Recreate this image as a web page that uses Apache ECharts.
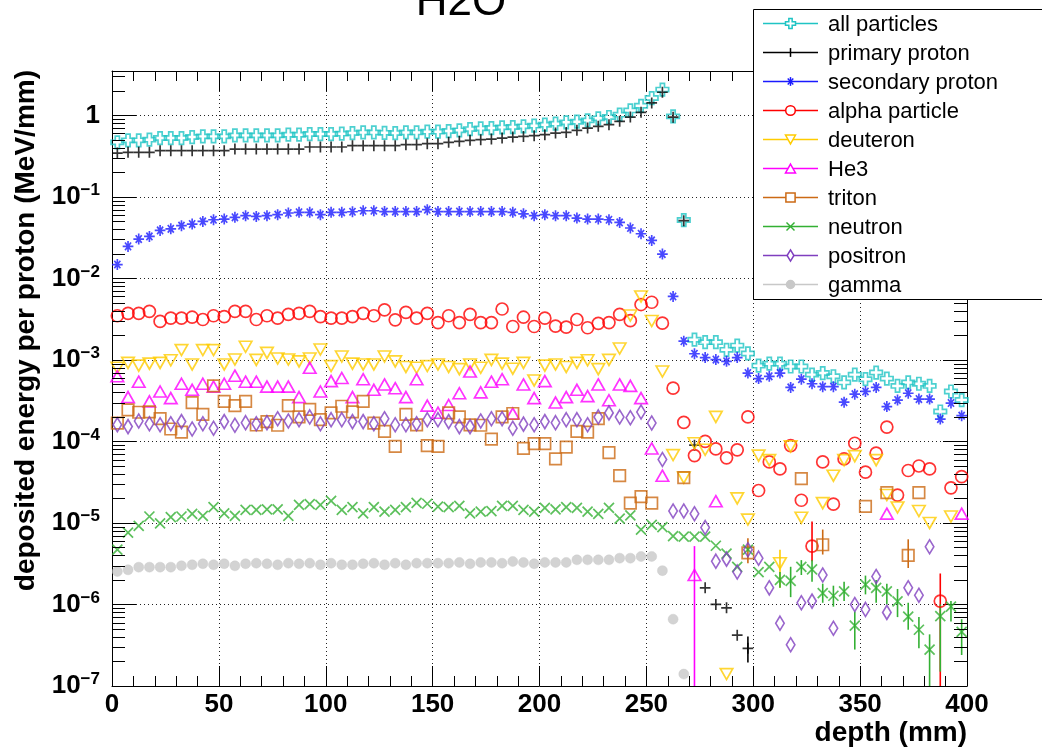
<!DOCTYPE html>
<html>
<head>
<meta charset="utf-8">
<title>H2O</title>
<script src="https://cdn.jsdelivr.net/npm/echarts@6/dist/echarts.min.js"></script>
<style>
html, body { margin: 0; padding: 0; background: #fff; }
#main { width: 1042px; height: 749px; }
</style>
</head>
<body>
<div id="main"></div>
<script>
// bin centres (mm), 5 mm bins
var depth = [
  2.5, 7.5, 12.5, 17.5, 22.5, 27.5, 32.5, 37.5, 42.5, 47.5,
  52.5, 57.5, 62.5, 67.5, 72.5, 77.5, 82.5, 87.5, 92.5, 97.5,
  102.5, 107.5, 112.5, 117.5, 122.5, 127.5, 132.5, 137.5, 142.5, 147.5,
  152.5, 157.5, 162.5, 167.5, 172.5, 177.5, 182.5, 187.5, 192.5, 197.5,
  202.5, 207.5, 212.5, 217.5, 222.5, 227.5, 232.5, 237.5, 242.5, 247.5,
  252.5, 257.5, 262.5, 267.5, 272.5, 277.5, 282.5, 287.5, 292.5, 297.5,
  302.5, 307.5, 312.5, 317.5, 322.5, 327.5, 332.5, 337.5, 342.5, 347.5,
  352.5, 357.5, 362.5, 367.5, 372.5, 377.5, 382.5, 387.5, 392.5, 397.5
];

var allParticles = [
  0.467, 0.494, 0.494, 0.503, 0.527, 0.527, 0.527, 0.542, 0.552, 0.552,
  0.552, 0.568, 0.568, 0.568, 0.568, 0.568, 0.579, 0.579, 0.590, 0.590,
  0.590, 0.596, 0.606, 0.618, 0.618, 0.610, 0.606, 0.618, 0.618, 0.631,
  0.631, 0.642, 0.655, 0.679, 0.692, 0.699, 0.712, 0.719, 0.733, 0.747,
  0.768, 0.791, 0.821, 0.836, 0.868, 0.919, 0.954, 1.02, 1.15, 1.31,
  1.63, 2.07, 0.97, 0.052, 0.00177, 0.00165, 0.00165, 0.00133, 0.00150, 0.00120,
  0.00085, 0.00090, 0.00090, 0.00083, 0.00083, 0.00066, 0.00069, 0.00063, 0.00053, 0.00066,
  0.00058, 0.00070, 0.00059, 0.00048, 0.00053, 0.00051, 0.00048, 0.000233, 0.00041, 0.000322
];

var primaryProton = [
  0.345, 0.352, 0.352, 0.352, 0.369, 0.369, 0.369, 0.369, 0.369, 0.369,
  0.369, 0.386, 0.386, 0.386, 0.386, 0.386, 0.386, 0.386, 0.409, 0.409,
  0.409, 0.409, 0.424, 0.424, 0.424, 0.424, 0.424, 0.437, 0.437, 0.449,
  0.449, 0.467, 0.480, 0.494, 0.503, 0.512, 0.527, 0.542, 0.552, 0.563,
  0.579, 0.606, 0.618, 0.655, 0.699, 0.733, 0.768, 0.844, 0.954, 1.09,
  1.42, 1.92, 0.95, 0.051, 9.0e-5, 1.6e-6, 1.0e-6, 9.1e-7, 4.2e-7, 2.9e-7,
  null, null, null, null, null, null, null, null, null, null,
  null, null, null, null, null, null, null, null, null, null
];

var secondaryProton = [
  0.0148, 0.0247, 0.0304, 0.0327, 0.0388, 0.0406, 0.0443, 0.0464, 0.0500, 0.0524,
  0.0535, 0.0561, 0.0587, 0.0575, 0.0587, 0.0605, 0.0634, 0.0646, 0.0646, 0.0605,
  0.0646, 0.0646, 0.0657, 0.0676, 0.0676, 0.0660, 0.0660, 0.0660, 0.0660, 0.0697,
  0.0660, 0.0660, 0.0660, 0.0660, 0.0660, 0.0660, 0.0660, 0.0646, 0.0620, 0.0587,
  0.0605, 0.0587, 0.0587, 0.0550, 0.0535, 0.0535, 0.0524, 0.0486, 0.0415, 0.0353,
  0.0292, 0.0199, 0.0060, 0.0017, 0.00119, 0.00107, 0.00101, 0.00096, 0.00107, 0.00069,
  0.00059, 0.00063, 0.00069, 0.00046, 0.00058, 0.00051, 0.00047, 0.00047, 0.000303, 0.00038,
  0.00041, 0.00046, 0.000268, 0.000322, 0.00039, 0.000331, 0.000331, 0.000188, 0.000296, 0.000207
];

var alphaParticle = [
  0.00348, 0.00373, 0.00373, 0.00394, 0.00297, 0.00325, 0.00325, 0.00334, 0.00313, 0.00348,
  0.00340, 0.00394, 0.00394, 0.00313, 0.00348, 0.00325, 0.00362, 0.00373, 0.00394, 0.00340,
  0.00325, 0.00325, 0.00340, 0.00373, 0.00348, 0.00410, 0.00310, 0.00383, 0.00325, 0.00373,
  0.00287, 0.00348, 0.00287, 0.00362, 0.00287, 0.00287, 0.00421, 0.00257, 0.00334, 0.00257,
  0.00325, 0.00260, 0.00253, 0.00313, 0.00248, 0.00280, 0.00287, 0.00362, 0.00303, 0.00478,
  0.00510, 0.00282, 0.00045, 0.000171, 6.7e-5, 1.0e-4, 8.1e-5, 6.3e-5, 7.9e-5, 2.0e-4,
  2.5e-5, 5.6e-5, 4.6e-5, 8.9e-5, 1.9e-5, 5.2e-6, 5.6e-5, 1.7e-5, 6.1e-5, 9.5e-5,
  4.2e-5, 7.2e-5, 1.5e-4, 2.2e-5, 4.4e-5, 5.0e-5, 4.6e-5, 1.1e-6, 2.7e-5, 3.7e-5
];

var deuteron = [
  0.00080, 0.00092, 0.00085, 0.00090, 0.00092, 0.00099, 0.00132, 0.00088, 0.00132, 0.00132,
  0.00088, 0.00101, 0.00145, 0.00100, 0.00122, 0.00104, 0.00101, 0.00096, 0.00104, 0.00134,
  0.00084, 0.00110, 0.00090, 0.00088, 0.00088, 0.00110, 0.00096, 0.00082, 0.00080, 0.00084,
  0.00088, 0.00082, 0.00077, 0.00088, 0.00080, 0.00100, 0.00090, 0.00078, 0.00092, 0.00056,
  0.00085, 0.00088, 0.00082, 0.00092, 0.00099, 0.00077, 0.00100, 0.00138, 0.00350, 0.00600,
  0.00300, 0.00072, 6.8e-5, 3.6e-5, 9.5e-5, 7.9e-5, 2.0e-4, 1.4e-7, 2.0e-5, 1.1e-5,
  6.7e-5, 5.9e-5, 3.2e-6, 8.7e-5, 1.16e-5, null, 1.75e-5, 3.8e-5, 5.9e-5, 6.6e-5,
  null, 5.9e-5, 2.2e-5, 1.55e-5, null, 1.4e-5, 1.0e-5, null, 1.2e-5, null
];

var he3 = [
  0.00063, 0.00035, 0.00054, 0.00031, 0.00041, 0.00034, 0.00051, 0.00043, 0.00051, 0.00047,
  0.00051, 0.00064, 0.00054, 0.00054, 0.00047, 0.00047, 0.00047, 0.00035, 0.00080, 0.00041,
  0.00055, 0.00060, 0.00035, 0.00058, 0.00043, 0.00050, 0.00045, 0.00035, 0.00058, 0.000275,
  0.000225, 0.00028, 0.00039, 0.00072, 0.00040, 0.00054, 0.00058, 0.00022, 0.00050, 0.00034,
  0.00055, 0.00030, 0.00035, 0.00043, 0.00036, 0.00050, 0.00032, 0.00050, 0.00048, 0.00034,
  8.2e-5, 3.8e-5, null, null, 2.3e-6, null, 1.85e-5, null, null, null,
  null, null, null, null, null, null, null, null, null, null,
  null, null, 1.3e-5, null, null, null, null, null, null, 1.3e-5
];

var triton = [
  0.000168, 0.000244, 0.000228, 0.00023, 0.00019, 0.000142, 0.00013, 0.00030, 0.000215, 0.00048,
  0.00031, 0.000275, 0.00031, 0.000159, 0.000175, 0.000158, 0.000275, 0.00020, 0.000248, 0.000185,
  0.000224, 0.00027, 0.00023, 0.00031, 0.000168, 0.000133, 8.7e-5, 0.000215, 0.00016, 8.9e-5,
  8.7e-5, 0.000224, 0.00020, 0.00016, 0.000158, 0.000107, 0.00020, 0.00022, 8.2e-5, 9.4e-5,
  9.4e-5, 6.1e-5, 8.5e-5, 0.000133, 0.00013, 0.00019, 7.3e-5, 3.8e-5, 1.75e-5, 2.1e-5,
  1.75e-5, null, null, 3.6e-5, null, null, null, null, null, 4.3e-6,
  null, null, null, null, 3.5e-5, null, 5.4e-6, null, null, null,
  1.6e-5, null, 2.35e-5, null, 4.0e-6, 2.35e-5, null, null, null, null
];

var neutron = [
  4.7e-6, 7.6e-6, 9.2e-6, 1.2e-5, 9.9e-6, 1.18e-5, 1.2e-5, 1.29e-5, 1.22e-5, 1.56e-5,
  1.31e-5, 1.22e-5, 1.45e-5, 1.45e-5, 1.47e-5, 1.47e-5, 1.22e-5, 1.67e-5, 1.7e-5, 1.67e-5,
  1.87e-5, 1.45e-5, 1.56e-5, 1.31e-5, 1.56e-5, 1.38e-5, 1.45e-5, 1.56e-5, 1.76e-5, 1.72e-5,
  1.59e-5, 1.56e-5, 1.62e-5, 1.31e-5, 1.38e-5, 1.4e-5, 1.62e-5, 1.62e-5, 1.45e-5, 1.38e-5,
  1.53e-5, 1.47e-5, 1.56e-5, 1.53e-5, 1.38e-5, 1.29e-5, 1.53e-5, 1.13e-5, 1.24e-5, 8.3e-6,
  9.5e-6, 8.9e-6, 6.9e-6, 6.8e-6, 6.8e-6, 6.8e-6, 5.25e-6, 4.2e-6, 2.9e-6, 4.7e-6,
  2.5e-6, 2.9e-6, 2.0e-6, 1.95e-6, 2.9e-6, 2.7e-6, 1.38e-6, 1.28e-6, 1.45e-6, 5.5e-7,
  1.75e-6, 1.6e-6, 1.45e-6, 1.09e-6, 7.1e-7, 4.9e-7, 2.8e-7, 7.2e-7, 9.4e-7, 4.6e-7
];

var positron = [
  0.00016, 0.000152, 0.000178, 0.000165, 0.00016, 0.000165, 0.000175, 0.000142, 0.000165, 0.000145,
  0.000175, 0.000158, 0.00017, 0.000165, 0.00017, 0.00019, 0.000178, 0.000185, 0.00020, 0.000165,
  0.000185, 0.000185, 0.000175, 0.000175, 0.000165, 0.00019, 0.00016, 0.00016, 0.000165, 0.000185,
  0.000185, 0.000175, 0.000152, 0.000152, 0.000178, 0.00019, 0.00019, 0.000145, 0.000163, 0.00016,
  0.000175, 0.00017, 0.000185, 0.000185, 0.00016, 0.00020, 0.000224, 0.00020, 0.000195, 0.00023,
  0.000168, 6.0e-5, 1.4e-5, 1.4e-5, 1.3e-5, 8.8e-6, 3.4e-6, 3.6e-6, 2.5e-6, 4.7e-6,
  3.7e-6, 1.6e-6, 5.9e-7, 3.2e-7, 1.05e-6, 1.1e-6, 2.3e-6, 5.1e-7, null, 1.0e-6,
  8.7e-7, 2.2e-6, 8.0e-7, null, 1.6e-6, 1.3e-6, 5.1e-6, null, null, null
];

var gamma = [
  2.54e-6, 2.66e-6, 2.87e-6, 2.87e-6, 2.87e-6, 2.87e-6, 2.98e-6, 3.07e-6, 3.16e-6, 3.07e-6,
  3.16e-6, 2.98e-6, 3.16e-6, 3.21e-6, 3.16e-6, 3.07e-6, 3.21e-6, 3.16e-6, 3.21e-6, 3.07e-6,
  3.21e-6, 3.07e-6, 3.07e-6, 3.16e-6, 3.21e-6, 3.07e-6, 3.21e-6, 3.07e-6, 3.21e-6, 3.21e-6,
  3.21e-6, 3.21e-6, 3.28e-6, 3.16e-6, 3.28e-6, 3.28e-6, 3.21e-6, 3.37e-6, 3.28e-6, 3.16e-6,
  3.28e-6, 3.28e-6, 3.28e-6, 3.53e-6, 3.53e-6, 3.53e-6, 3.53e-6, 3.70e-6, 3.70e-6, 3.88e-6,
  3.88e-6, 2.60e-6, 6.6e-7, 1.4e-7, null, null, null, null, null, null,
  null, null, null, null, null, null, null, null, null, null,
  null, null, null, null, null, null, null, null, null, null
];

// vertical error bars that are visible: [depth, low, high]
var primaryErr = [[297.5, 1.94e-7, 4.05e-7]];
var alphaErr = [[327.5, 3.4e-6, 1.04e-5], [387.5, 1e-8, 2.4e-6]];
var deuteronErr = [[312.5, 1.6e-6, 4.7e-6]];
var he3Err = [[272.5, 1e-8, 5.2e-6]];
var tritonErr = [[297.5, 3.2e-6, 6.5e-6], [332.5, 4.1e-6, 8.3e-6], [372.5, 2.8e-6, 6.3e-6]];
var neutronErr = [
  [312.5, 1.6e-6, 2.5e-6], [317.5, 1.23e-6, 2.9e-6], [322.5, 2.3e-6, 3.5e-6], [327.5, 1.9e-6, 3.5e-6],
  [332.5, 1.05e-6, 1.8e-6], [337.5, 9.4e-7, 1.7e-6], [342.5, 1.1e-6, 1.9e-6], [347.5, 2.8e-7, 8.2e-7],
  [352.5, 1.33e-6, 2.26e-6], [357.5, 1.05e-6, 2.0e-6], [362.5, 1.0e-6, 1.8e-6], [367.5, 7.0e-7, 1.55e-6],
  [372.5, 4.9e-7, 1.05e-6], [377.5, 2.9e-7, 7.0e-7], [382.5, 1e-8, 4.3e-7], [387.5, 1.5e-7, 1.0e-6],
  [392.5, 6.2e-7, 1.1e-6], [397.5, 2.4e-7, 6.6e-7]
];

var myChart = echarts.init(document.getElementById('main'));

var FONT = "'Liberation Sans', Arial, Helvetica, sans-serif";

// ROOT-like marker shapes (30x30 box)
var P = {
  openCross: 'M10,0 L20,0 L20,10 L30,10 L30,20 L20,20 L20,30 L10,30 L10,20 L0,20 L0,10 L10,10 Z',
  plus: 'M0,15 L32,15 M16,0 L16,30',
  star: 'M0,14 L32,14 M16,1 L16,27 M7,5 L25,23 M25,5 L7,23',
  circle: 'M0,15 A15,15 0 1,1 30,15 A15,15 0 1,1 0,15 Z',
  triDown: 'M0,0 L30,0 L15,27 Z',
  triUp: 'M15,0 L30,27 L0,27 Z',
  square: 'M0,0 L30,0 L30,30 L0,30 Z',
  xcross: 'M0,0 L30,30 M30,0 L0,30',
  diamond: 'M15,0 L30,15 L15,30 L0,15 Z'
};

var styles = [
  { name: 'all particles', data: allParticles, color: '#1fc4c4', shape: 'openCross', size: [12.5, 12.5] },
  { name: 'primary proton', data: primaryProton, color: '#000000', shape: 'plus', size: [10.7, 11] },
  { name: 'secondary proton', data: secondaryProton, color: '#1a1aff', shape: 'star', size: [10.7, 11] },
  { name: 'alpha particle', data: alphaParticle, color: '#ff0000', shape: 'circle', size: [12, 12] },
  { name: 'deuteron', data: deuteron, color: '#ffcc00', shape: 'triDown', size: [12.5, 11] },
  { name: 'He3', data: he3, color: '#ff00ff', shape: 'triUp', size: [12.5, 11] },
  { name: 'triton', data: triton, color: '#cc6a14', shape: 'square', size: [11.5, 11.5] },
  { name: 'neutron', data: neutron, color: '#33b033', shape: 'xcross', size: [10, 10] },
  { name: 'positron', data: positron, color: '#7f3fbf', shape: 'diamond', size: [8.5, 14] },
  { name: 'gamma', data: gamma, color: '#c8c8c8', shape: 'circle', size: [10, 10], filled: true }
];
styles[1].err = primaryErr;
styles[3].err = alphaErr;
styles[4].err = deuteronErr;
styles[5].err = he3Err;
styles[6].err = tritonErr;
styles[7].err = neutronErr;

function pairs(vals) {
  var out = [];
  for (var i = 0; i < depth.length; i++) {
    if (vals[i] != null) out.push([depth[i], vals[i]]);
  }
  return out;
}

function renderErr(params, api) {
  var a = api.coord([api.value(0), api.value(1)]);
  var b = api.coord([api.value(0), api.value(2)]);
  return {
    type: 'line',
    shape: { x1: a[0], y1: a[1], x2: b[0], y2: b[1] },
    style: { stroke: api.visual('color'), lineWidth: 1.6 }
  };
}

// minor ticks of the log axis (2..9 per decade), left and right frame
var yMinor = [];
for (var e = -7; e <= 0; e++) {
  for (var m = 2; m <= 9; m++) {
    var v = m * Math.pow(10, e);
    if (v < 3.5) yMinor.push([0, v]);
  }
}
function renderMinor(params, api) {
  var y = Math.round(api.coord([0, api.value(1)])[1]) + 0.5;
  var cs = params.coordSys;
  return {
    type: 'group',
    children: [
      { type: 'line', shape: { x1: cs.x, y1: y, x2: cs.x + 13, y2: y }, style: { stroke: '#000', lineWidth: 1 } },
      { type: 'line', shape: { x1: cs.x + cs.width - 13, y1: y, x2: cs.x + cs.width, y2: y }, style: { stroke: '#000', lineWidth: 1 } }
    ]
  };
}

var series = [];
styles.forEach(function (s) {
  series.push({
    name: s.name,
    type: 'scatter',
    data: pairs(s.data),
    symbol: 'path://' + P[s.shape],
    symbolSize: s.size,
    symbolKeepAspect: false,
    itemStyle: s.filled
      ? { color: s.color, borderColor: s.color, borderWidth: 0.5 }
      : { color: 'rgba(0,0,0,0)', borderColor: s.color, borderWidth: 1.7 },
    emphasis: { disabled: true },
    silent: true,
    animation: false
  });
  if (s.err) {
    series.push({
      type: 'custom',
      renderItem: renderErr,
      data: s.err,
      encode: { x: 0, y: [1, 2] },
      itemStyle: { color: s.color },
      clip: true,
      silent: true,
      animation: false
    });
  }
});
series.push({
  type: 'custom',
  renderItem: renderMinor,
  data: yMinor,
  encode: { x: 0, y: 1 },
  clip: false,
  silent: true,
  animation: false,
  z: 5
});

// legend marker built from basic graphic shapes
function legendMarker(s, cx, cy) {
  var w = s.size[0] * 0.8, h = s.size[1] * 0.8;
  var x0 = cx - w / 2, y0 = cy - h / 2, x1 = cx + w / 2, y1 = cy + h / 2;
  var fill = s.filled ? s.color : '#fff';
  var st = { fill: fill, stroke: s.color, lineWidth: 1.5 };
  var ln = { stroke: s.color, lineWidth: 1.5 };
  function line(a, b, c, d) { return { type: 'line', z: 102, shape: { x1: a, y1: b, x2: c, y2: d }, style: ln }; }
  switch (s.shape) {
    case 'openCross':
      var a = w / 3;
      return [{ type: 'polygon', z: 102, style: st, shape: { points: [
        [x0 + a, y0], [x1 - a, y0], [x1 - a, y0 + a], [x1, y0 + a], [x1, y1 - a], [x1 - a, y1 - a],
        [x1 - a, y1], [x0 + a, y1], [x0 + a, y1 - a], [x0, y1 - a], [x0, y0 + a], [x0 + a, y0 + a]] } }];
    case 'plus':
      return [line(cx, y0, cx, y1)];
    case 'star':
      return [line(cx, y0, cx, y1), line(x0 + 1.5, y0 + 1.5, x1 - 1.5, y1 - 1.5), line(x1 - 1.5, y0 + 1.5, x0 + 1.5, y1 - 1.5)];
    case 'circle':
      return [{ type: 'circle', z: 102, style: st, shape: { cx: cx, cy: cy, r: w / 2 } }];
    case 'triDown':
      return [{ type: 'polygon', z: 102, style: st, shape: { points: [[x0, y0], [x1, y0], [cx, y1]] } }];
    case 'triUp':
      return [{ type: 'polygon', z: 102, style: st, shape: { points: [[cx, y0], [x1, y1], [x0, y1]] } }];
    case 'square':
      return [{ type: 'rect', z: 102, style: st, shape: { x: x0, y: y0, width: w, height: h } }];
    case 'xcross':
      return [line(x0, y0, x1, y1), line(x1, y0, x0, y1)];
    case 'diamond':
      return [{ type: 'polygon', z: 102, style: st, shape: { points: [[cx, y0], [x1, cy], [cx, y1], [x0, cy]] } }];
  }
  return [];
}

// legend box, drawn ROOT style
var legendEls = [{
  type: 'rect', z: 100,
  shape: { x: 753.5, y: 9.5, width: 330, height: 290 },
  style: { fill: '#fff', stroke: '#000', lineWidth: 1 }
}];
styles.forEach(function (s, i) {
  var cy = 23.5 + i * 29;
  legendEls.push({
    type: 'line', z: 101,
    shape: { x1: 763, y1: cy, x2: 818, y2: cy },
    style: { stroke: s.color, lineWidth: 1.5 }
  });
  legendEls = legendEls.concat(legendMarker(s, 790.5, cy));
  legendEls.push({
    type: 'text', z: 102,
    style: { text: s.name, x: 828, y: cy + 1, font: '22px ' + FONT, fill: '#000', textAlign: 'left', textVerticalAlign: 'middle' }
  });
});

var option = {
  backgroundColor: '#fff',
  animation: false,
  textStyle: { fontFamily: FONT },
  grid: { left: 112, top: 71, width: 855, height: 615, containLabel: false, outerBoundsMode: 'none' },
  xAxis: [
    {
      type: 'value', min: 0, max: 400, interval: 50,
      axisLine: { onZero: false, lineStyle: { color: '#000', width: 1 } },
      axisTick: { inside: true, length: 20, lineStyle: { color: '#000' } },
      minorTick: { show: true, splitNumber: 5, length: 10, lineStyle: { color: '#000' } },
      splitLine: { show: true, lineStyle: { color: '#222', width: 1, type: [1, 3] } },
      axisLabel: { margin: 6, color: '#000', fontSize: 26, fontWeight: 'bold', fontFamily: FONT }
    },
    {
      type: 'value', min: 0, max: 400, interval: 50, position: 'top',
      axisLine: { onZero: false, lineStyle: { color: '#000', width: 1 } },
      axisTick: { inside: true, length: 20, lineStyle: { color: '#000' } },
      minorTick: { show: true, splitNumber: 5, length: 10, lineStyle: { color: '#000' } },
      splitLine: { show: false },
      axisLabel: { show: false }
    }
  ],
  yAxis: [
    {
      type: 'log', logBase: 10, min: 1e-7, max: 3.5, interval: 1,
      axisLine: { onZero: false, lineStyle: { color: '#000', width: 1 } },
      axisTick: { inside: true, length: 24, lineStyle: { color: '#000' } },
      splitLine: { show: true, lineStyle: { color: '#222', width: 1, type: [1, 3] } },
      axisLabel: {
        margin: 12, showMaxLabel: false, showMinLabel: true,
        formatter: function (v) {
          var ex = Math.round(Math.log(v) / Math.LN10);
          if (ex === 0) return '{b|1}';
          return '{b|10}{s|' + (ex < 0 ? '\u2212' : '') + Math.abs(ex) + '}';
        },
        rich: {
          b: { fontSize: 26, fontWeight: 'bold', fontFamily: FONT, color: '#000', lineHeight: 30 },
          s: { fontSize: 17, fontWeight: 'bold', fontFamily: FONT, color: '#000', lineHeight: 16, verticalAlign: 'top' }
        }
      }
    },
    {
      type: 'log', logBase: 10, min: 1e-7, max: 3.5, interval: 1, position: 'right',
      axisLine: { onZero: false, lineStyle: { color: '#000', width: 1 } },
      axisTick: { inside: true, length: 24, lineStyle: { color: '#000' } },
      splitLine: { show: false },
      axisLabel: { show: false }
    }
  ],
  graphic: [
    {
      type: 'text', z: 90,
      style: { text: 'H2O', x: 461, y: 3, font: '44px ' + FONT, fill: '#000', textAlign: 'center', textVerticalAlign: 'middle' }
    },
    {
      type: 'text', z: 90,
      style: { text: 'depth (mm)', x: 967, y: 733, font: 'bold 28px ' + FONT, fill: '#000', textAlign: 'right', textVerticalAlign: 'middle' }
    },
    {
      type: 'text', z: 90, x: 26, y: 70, rotation: Math.PI / 2,
      style: { text: 'deposited energy per proton (MeV/mm)', x: 0, y: 0, font: 'bold 28px ' + FONT, fill: '#000', textAlign: 'right', textVerticalAlign: 'middle' }
    }
  ].concat(legendEls),
  series: series
};

myChart.setOption(option);
</script>
</body>
</html>
